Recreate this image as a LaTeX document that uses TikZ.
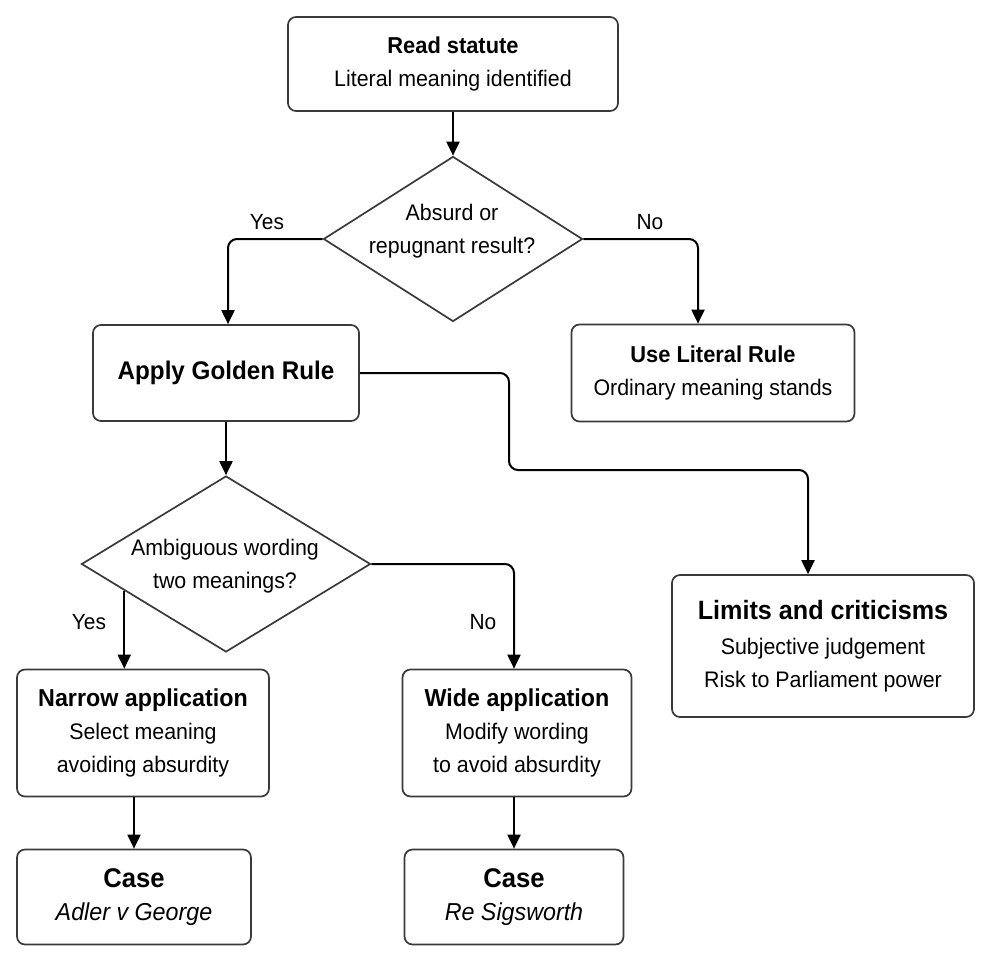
\documentclass[tikz,border=0pt]{standalone}
\usepackage{fontspec}
\setmainfont{Liberation Sans}[FakeStretch=0.95]
\usetikzlibrary{shapes.geometric,arrows.meta,calc}
\definecolor{boxc}{HTML}{3A3A3A}
\begin{document}
\begin{tikzpicture}[x=1pt,y=-1pt,
  box/.style={draw=boxc, line width=1.7pt, rounded corners=8pt, align=center, inner sep=0pt,
    font=\fontsize{22.5}{33}\selectfont},
  dia/.style={draw=boxc, line width=1.7pt, diamond, inner sep=0pt},
  dtext/.style={align=center, font=\fontsize{22.5}{33}\selectfont},
  conn/.style={line width=2pt, rounded corners=9pt, -{Triangle[width=13pt,length=14pt]}},
  lab/.style={font=\fontsize{22}{25}\selectfont}]
\useasboundingbox[fill=white] (0,0) rectangle (992,963);

% nodes
\node[box, minimum width=330pt, minimum height=94pt] (read) at (453,64)
  {{\fontsize{23}{33}\selectfont\bfseries Read statute}\\Literal meaning identified};
\node[dia, minimum width=259pt, minimum height=165pt] (d1) at (453,239) {};
\node[dtext] (d1t) at (452,231) {Absurd or\\repugnant result?};

\node[box, minimum width=266pt, minimum height=96pt] (golden) at (226,373)
  {{\fontsize{25.5}{30}\selectfont\bfseries Apply Golden Rule}};
\node[box, minimum width=283pt, minimum height=97pt] (literal) at (713,373)
  {{\fontsize{23}{33}\selectfont\bfseries Use Literal Rule}\\Ordinary meaning stands};

\node[dia, minimum width=289pt, minimum height=176pt] (d2) at (226,564) {};
\node[dtext] (d2t) at (225,566) {Ambiguous wording\\two meanings?};

\node[box, minimum width=302pt, minimum height=142pt] (limits) at (823,646)
  {{\fontsize{26.5}{33}\selectfont\bfseries Limits and criticisms}\\[2pt]Subjective judgement\\Risk to Parliament power};

\node[box, minimum width=252pt, minimum height=127pt] (narrow) at (143,733)
  {{\fontsize{24.5}{33}\selectfont\bfseries Narrow application}\\Select meaning\\avoiding absurdity};
\node[box, minimum width=229pt, minimum height=127pt] (wide) at (517,733)
  {{\fontsize{24.5}{33}\selectfont\bfseries Wide application}\\Modify wording\\to avoid absurdity};

\node[box, minimum width=234pt, minimum height=95pt] (case1) at (134,897)
  {{\fontsize{27}{34}\selectfont\bfseries Case}\\\fontsize{24.5}{34}\selectfont\itshape Adler v George};
\node[box, minimum width=219pt, minimum height=95pt] (case2) at (514,897)
  {{\fontsize{27}{34}\selectfont\bfseries Case}\\\fontsize{24.5}{34}\selectfont\itshape Re Sigsworth};

% labels
\node[lab] (yes1) at (267,222) {Yes};
\node[lab] (no1) at (650,222) {No};
\node[lab] (yes2) at (89,622) {Yes};
\node[lab] (no2) at (483,622) {No};

% connectors
\coordinate (c1) at (228,0);
\coordinate (c2) at (698,0);
\coordinate (c3) at (808,0);
\coordinate (c4) at (509,0);
\coordinate (c5) at (0,470);

\draw[conn] (read.south) -- (d1.north);
\draw[conn] (d1.west) -- (d1.west -| c1) -- (golden.north -| c1);
\draw[conn] (d1.east) -- (d1.east -| c2) -- (literal.north -| c2);
\draw[conn] (golden.east) -- (golden.east -| c4) -- (c4 |- c5) -- (c3 |- c5) -- (limits.north -| c3);
\draw[conn] (golden.south) -- (d2.north);
\coordinate (d2yes) at ($(d2.west)!0.30!(d2.south)$);
\draw[conn] (d2yes) -- (narrow.north -| d2yes);
\draw[conn] (d2.east) -- (d2.east -| case2) -- (wide.north -| case2);
\draw[conn] (case1.north |- narrow.south) -- (case1.north);
\draw[conn] (case2.north |- wide.south) -- (case2.north);
\end{tikzpicture}
\end{document}
